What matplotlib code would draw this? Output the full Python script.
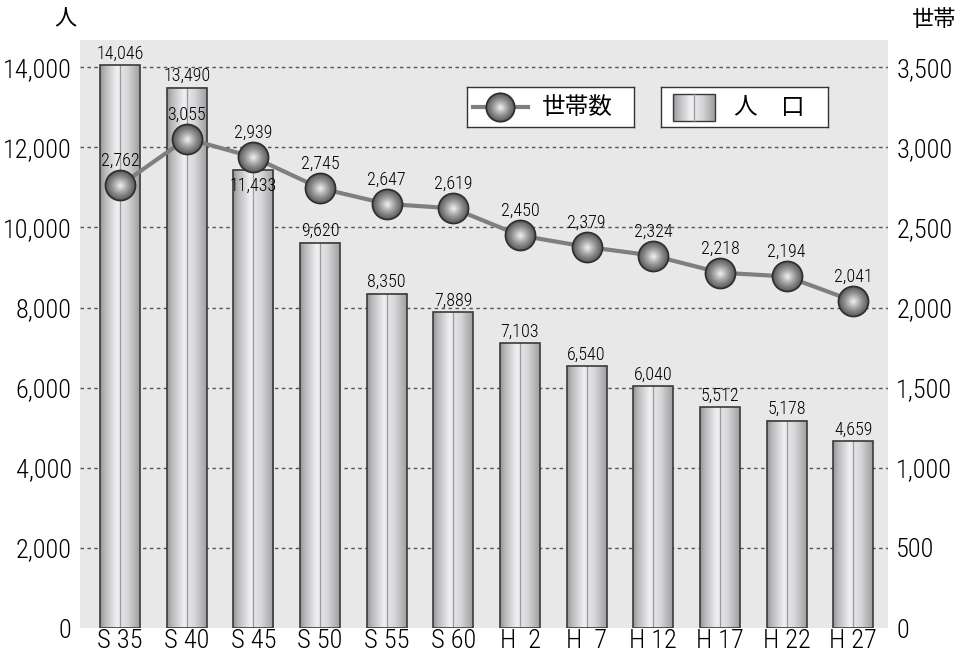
import matplotlib
matplotlib.use('Agg')
import matplotlib.pyplot as plt
import numpy as np
from matplotlib import font_manager
from matplotlib.font_manager import FontProperties

# データ
years = ['S 35', 'S 40', 'S 45', 'S 50', 'S 55', 'S 60',
         'H  2', 'H  7', 'H 12', 'H 17', 'H 22', 'H 27']
population = [14046, 13490, 11433, 9620, 8350, 7889, 7103, 6540, 6040, 5512, 5178, 4659]
households = [2762, 3055, 2939, 2745, 2647, 2619, 2450, 2379, 2324, 2218, 2194, 2041]
left_ticks = [0, 2000, 4000, 6000, 8000, 10000, 12000, 14000]
right_ticks = [0, 500, 1000, 1500, 2000, 2500, 3000, 3500]


# 細めの数字フォントを探す (なければ普通の Liberation Sans)
def wnum(f):
    return f.weight if isinstance(f.weight, int) else font_manager.weight_dict.get(f.weight, 400)


cond = [f for f in font_manager.fontManager.ttflist
        if ('Condensed' in f.name or 'Narrow' in f.name or f.stretch in ('condensed', 'semi-condensed'))
        and f.style == 'normal' and 280 <= wnum(f) <= 400]
pref = ['Roboto Condensed', 'Liberation Sans Narrow', 'DejaVu Sans', 'Open Sans', 'Noto Sans']
cond.sort(key=lambda f: (next((i for i, p in enumerate(pref) if f.name.startswith(p)), 99), abs(wnum(f) - 320)))
if cond:
    num_path = cond[0].fname
    big, small = 19, 13
else:
    num_path = font_manager.findfont('Liberation Sans')
    big, small = 16, 11.5
jp_font = 'Noto Sans CJK JP'
plt.rcParams['font.family'] = ['Liberation Sans', jp_font, 'DejaVu Sans']


def nf(size):
    return FontProperties(fname=num_path, size=size)


fig = plt.figure(figsize=(9.66, 6.6), dpi=100)
ax = fig.add_axes([80 / 966, 32 / 660, 808 / 966, 588 / 660])
ax.set_facecolor('#e8e8e9')
ymax = 14680
for s in ax.spines.values():
    s.set_visible(False)

# グリッド
for v in left_ticks[1:]:
    ax.axhline(v, color='#555555', lw=1, ls=(0, (2.5, 2.5)), zorder=1)

# 棒グラフ (グラデーション)
x = np.arange(len(years))
w = 0.6
bars = ax.bar(x, population, width=w, facecolor='none', edgecolor='#3a3a3a', lw=1.2, zorder=4)
g = np.linspace(0, 1, 200)
shade = np.interp(g, [0, 0.12, 0.42, 0.5, 0.52, 0.7, 1.0],
                  [0.58, 0.72, 0.94, 0.92, 0.9, 0.84, 0.62])
grad = np.clip(np.dstack([shade, shade, shade + 0.01]), 0, 1).repeat(2, axis=0)
for r in bars:
    x0, bw, h = r.get_x(), r.get_width(), r.get_height()
    ax.imshow(grad, extent=(x0, x0 + bw, 0, h), aspect='auto', zorder=3,
              interpolation='bilinear')
    ax.plot([x0 + bw * 0.5, x0 + bw * 0.5], [0, h], color='#9a9a9a', lw=0.9, zorder=3.5)
ax.set_xlim(-0.6, 11.52)
ax.set_ylim(0, ymax)

# 人口ラベル
for i, v in enumerate(population):
    if i == 2:
        ax.text(i, v - 180, f'{v:,}', ha='center', va='top', fontproperties=nf(small), zorder=6)
    else:
        ax.text(i, v + 60, f'{v:,}', ha='center', va='bottom', fontproperties=nf(small), zorder=6)

ax.set_yticks(left_ticks)
ax.set_yticklabels([f'{v:,}' for v in left_ticks], fontproperties=nf(big))
ax.set_xticks(x)
ax.set_xticklabels(years, fontproperties=nf(big))
ax.tick_params(axis='y', length=0, pad=6)
ax.tick_params(axis='x', length=0, pad=1)

# 世帯数 (右軸)
ax2 = ax.twinx()
ax2.set_ylim(0, ymax / 4)
for s in ax2.spines.values():
    s.set_visible(False)
ax2.set_yticks(right_ticks)
ax2.set_yticklabels([f'{v:,}' for v in right_ticks], fontproperties=nf(big))
ax2.tick_params(length=0, pad=6)
ax2.plot(x, households, color='#7f7f7f', lw=3, zorder=2)


def sphere(axis, xs, ys, size, zorder=5):
    axis.scatter(xs, ys, s=size, color='#5a5a5a', edgecolors='#2e2e2e', linewidths=1.2, zorder=zorder)
    n = 14
    for k in range(1, n):
        f = 1 - k / n
        c = 0.4 + 0.58 * (k / n) ** 1.2
        axis.scatter(xs, ys, s=size * f ** 2 * 0.92, color=(c, c, c), lw=0, zorder=zorder)


sphere(ax2, x, households, 470)
for i, v in enumerate(households):
    ax2.text(i, v + 95, f'{v:,}', ha='center', va='bottom', fontproperties=nf(small), zorder=6)

# 単位
fig.text(65 / 966, 1 - 19 / 660, '人', family=jp_font, fontsize=16, ha='center', va='center')
fig.text(934 / 966, 1 - 20 / 660, '世帯', family=jp_font, fontsize=16, ha='center', va='center')

# 凡例 (世帯数)
lg1 = fig.add_axes([467 / 966, 1 - 127 / 660, 167 / 966, 40 / 660])
lg1.set_xticks([])
lg1.set_yticks([])
for s in lg1.spines.values():
    s.set_color('#333333')
    s.set_linewidth(1)
lg1.plot([6, 61], [20, 20], color='#7f7f7f', lw=3)
sphere(lg1, [33], [20], 420)
lg1.set_xlim(0, 167)
lg1.set_ylim(0, 40)
lg1.text(75, 20, '世帯数', family=jp_font, fontsize=17, va='center', ha='left')

# 凡例 (人口)
lg2 = fig.add_axes([661 / 966, 1 - 127 / 660, 167 / 966, 40 / 660])
lg2.set_xticks([])
lg2.set_yticks([])
for s in lg2.spines.values():
    s.set_color('#333333')
    s.set_linewidth(1)
lg2.imshow(grad, extent=(12, 54, 6, 33), aspect='auto', interpolation='bilinear')
lg2.plot([33, 33], [6, 33], color='#9a9a9a', lw=0.9)
lg2.add_patch(plt.Rectangle((12, 6), 42, 27, fill=False, edgecolor='#3a3a3a', lw=1))
lg2.set_xlim(0, 167)
lg2.set_ylim(0, 40)
lg2.text(72, 20, '人', family=jp_font, fontsize=17, va='center', ha='left')
lg2.text(120, 20, '口', family=jp_font, fontsize=17, va='center', ha='left')

fig.savefig('out.png', dpi=100)
